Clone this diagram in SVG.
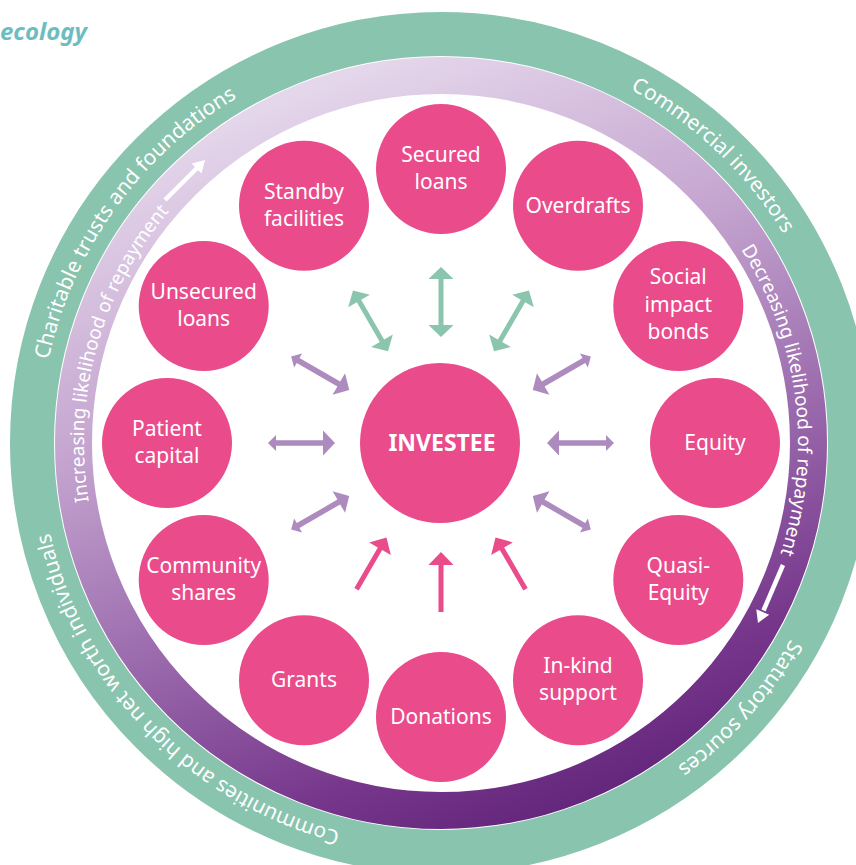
<svg xmlns="http://www.w3.org/2000/svg" xmlns:xlink="http://www.w3.org/1999/xlink" width="856" height="865" viewBox="0 0 856 865">
  <defs>
    <linearGradient id="purpleGrad" gradientUnits="userSpaceOnUse" x1="300" y1="60" x2="600" y2="830">
      <stop offset="0" stop-color="#e8dcee"/>
      <stop offset="0.35" stop-color="#c4a4cf"/>
      <stop offset="0.6" stop-color="#9c6cae"/>
      <stop offset="0.85" stop-color="#75358a"/>
      <stop offset="1" stop-color="#5e2278"/>
    </linearGradient>
    <polygon id="arrowGreen" points="106,0 118,-12.5 118,-2.5 164,-2.5 164,-12.5 176,0 164,12.5 164,2.5 118,2.5 118,12.5"/>
    <polygon id="arrowPurple" points="106,0 118,-12.5 118,-2.75 165,-2.75 165,-8 173,0 165,8 165,2.75 118,2.75 118,12.5"/>
    <polygon id="arrowPink" points="109,0 122,-12.5 122,-2.5 169,-2.5 169,2.5 122,2.5 122,12.5"/>
    <path id="pCharitable" d="M154.0,723.1 A401,401 0 0 1 614.9,81.7"/>
    <path id="pCommercial" d="M201.9,121.1 A401,401 0 0 1 775.8,663.8"/>
    <path id="pStatutory" d="M755.3,193.9 A401,401 0 0 1 230.9,784.5"/>
    <path id="pCommunities" d="M666.4,774.7 A401,401 0 0 1 115.7,208.4"/>
    <path id="pIncreasing" d="M287.3,765.2 A357,357 0 0 1 475.2,87.6"/>
    <path id="pDecreasing" d="M457.2,86.4 A357,357 0 0 1 547.7,783.7"/>
  </defs>
  <style>
    .node { fill: #e94b8b; }
    .nt { fill: #ffffff; font-family: "Noto Sans", "Open Sans", sans-serif; font-size: 21px; text-anchor: middle; }
    .ring-t { fill: #ffffff; font-family: "Noto Sans", "Open Sans", sans-serif; font-size: 21px; text-anchor: middle; }
    .ring-p { fill: #ffffff; font-family: "Noto Sans", "Open Sans", sans-serif; font-size: 19px; text-anchor: middle; }
    .ag { fill: #8bc5ae; }
    .ap { fill: #ad8bbf; }
    .ak { fill: #e94b8b; }
  </style>

  <rect width="856" height="865" fill="#ffffff"/>

  <text x="0" y="40" font-family="'Noto Sans', 'Open Sans', sans-serif" font-size="24" font-weight="bold" font-style="italic" fill="#6dbdc0">ecology</text>

  <g id="rings">
    <circle cx="441" cy="443" r="409" fill="none" stroke="#89c4ae" stroke-width="44"/>
    <circle cx="441" cy="443" r="367.5" fill="none" stroke="url(#purpleGrad)" stroke-width="37"/>
    <text class="ring-t"><textPath xlink:href="#pCharitable" href="#pCharitable" startOffset="50%">Charitable trusts and foundations</textPath></text>
    <text class="ring-t"><textPath xlink:href="#pCommercial" href="#pCommercial" startOffset="50%">Commercial investors</textPath></text>
    <text class="ring-t"><textPath xlink:href="#pStatutory" href="#pStatutory" startOffset="50%">Statutory sources</textPath></text>
    <text class="ring-t"><textPath xlink:href="#pCommunities" href="#pCommunities" startOffset="50%">Communities and high net worth individuals</textPath></text>
    <text class="ring-p"><textPath xlink:href="#pIncreasing" href="#pIncreasing" startOffset="50%">Increasing likelihood of repayment</textPath></text>
    <text class="ring-p"><textPath xlink:href="#pDecreasing" href="#pDecreasing" startOffset="50%">Decreasing likelihood of repayment</textPath></text>
    <g id="ring-arrows" fill="#ffffff" stroke="none">
      <line x1="165" y1="200" x2="197.5" y2="167.5" stroke="#ffffff" stroke-width="4.5"/>
      <polygon points="205,160 201.5,173.5 191.6,163.6"/>
      <line x1="783" y1="565" x2="763.5" y2="610.5" stroke="#ffffff" stroke-width="4.5"/>
      <polygon points="758,623 769.2,614.8 756.3,609.2"/>
    </g>
  </g>

  <g id="connectors">
    <use href="#arrowGreen" class="ag" transform="translate(441,443) rotate(-120)"/>
    <use href="#arrowGreen" class="ag" transform="translate(441,443) rotate(-90)"/>
    <use href="#arrowGreen" class="ag" transform="translate(441,443) rotate(-60)"/>
    <use href="#arrowPurple" class="ap" transform="translate(441,443) rotate(-30)"/>
    <use href="#arrowPurple" class="ap" transform="translate(441,443) rotate(0)"/>
    <use href="#arrowPurple" class="ap" transform="translate(441,443) rotate(30)"/>
    <use href="#arrowPurple" class="ap" transform="translate(441,443) rotate(150)"/>
    <use href="#arrowPurple" class="ap" transform="translate(441,443) rotate(180)"/>
    <use href="#arrowPurple" class="ap" transform="translate(441,443) rotate(210)"/>
    <use href="#arrowPink" class="ak" transform="translate(441,443) rotate(60)"/>
    <use href="#arrowPink" class="ak" transform="translate(441,443) rotate(90)"/>
    <use href="#arrowPink" class="ak" transform="translate(441,443) rotate(120)"/>
  </g>

  <g id="investee">
    <circle class="node" cx="440" cy="443" r="80"/>
    <text x="442" y="451" fill="#ffffff" font-family="'Noto Sans', 'Open Sans', sans-serif" font-size="23" font-weight="bold" text-anchor="middle">INVESTEE</text>
  </g>

  <g id="secured-loans">
    <circle class="node" cx="441" cy="169" r="65"/>
    <text class="nt" x="441" y="162">Secured</text>
    <text class="nt" x="441" y="189">loans</text>
  </g>
  <g id="overdrafts">
    <circle class="node" cx="578" cy="205.7" r="65"/>
    <text class="nt" x="578" y="212.7">Overdrafts</text>
  </g>
  <g id="social-impact-bonds">
    <circle class="node" cx="678.3" cy="306" r="65"/>
    <text class="nt" x="678.3" y="284">Social</text>
    <text class="nt" x="678.3" y="311.5">impact</text>
    <text class="nt" x="678.3" y="339">bonds</text>
  </g>
  <g id="equity">
    <circle class="node" cx="715" cy="443" r="65"/>
    <text class="nt" x="715" y="450">Equity</text>
  </g>
  <g id="quasi-equity">
    <circle class="node" cx="678.3" cy="580" r="65"/>
    <text class="nt" x="678.3" y="573">Quasi-</text>
    <text class="nt" x="678.3" y="600">Equity</text>
  </g>
  <g id="in-kind-support">
    <circle class="node" cx="578" cy="680.3" r="65"/>
    <text class="nt" x="578" y="673.3">In-kind</text>
    <text class="nt" x="578" y="700.3">support</text>
  </g>
  <g id="donations">
    <circle class="node" cx="441" cy="717" r="65"/>
    <text class="nt" x="441" y="724">Donations</text>
  </g>
  <g id="grants">
    <circle class="node" cx="304" cy="680.3" r="65"/>
    <text class="nt" x="304" y="687.3">Grants</text>
  </g>
  <g id="community-shares">
    <circle class="node" cx="203.7" cy="580" r="65"/>
    <text class="nt" x="203.7" y="573">Community</text>
    <text class="nt" x="203.7" y="600">shares</text>
  </g>
  <g id="patient-capital">
    <circle class="node" cx="167" cy="443" r="65"/>
    <text class="nt" x="167" y="436">Patient</text>
    <text class="nt" x="167" y="463">capital</text>
  </g>
  <g id="unsecured-loans">
    <circle class="node" cx="203.7" cy="306" r="65"/>
    <text class="nt" x="203.7" y="299">Unsecured</text>
    <text class="nt" x="203.7" y="326">loans</text>
  </g>
  <g id="standby-facilities">
    <circle class="node" cx="304" cy="205.7" r="65"/>
    <text class="nt" x="304" y="198.7">Standby</text>
    <text class="nt" x="304" y="225.7">facilities</text>
  </g>
</svg>
